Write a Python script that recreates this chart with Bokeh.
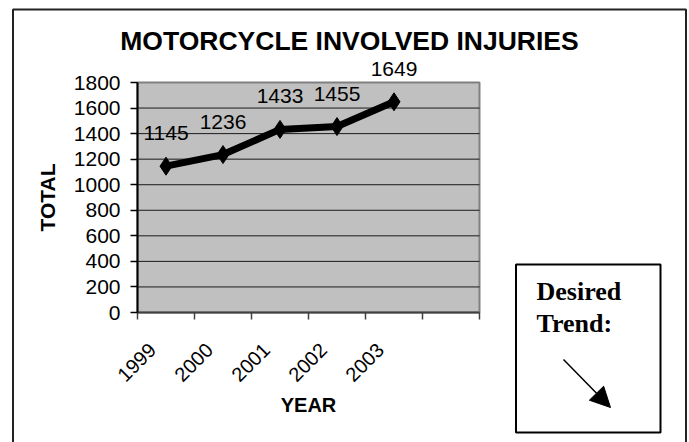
import math
from bokeh.plotting import figure
from bokeh.models import (Range1d, FixedTicker, LabelSet, Label, BoxAnnotation,
                          Arrow, NormalHead, ColumnDataSource)
from bokeh.core.properties import value
from bokeh.embed import file_html
from bokeh.resources import INLINE

# ---- data ----
years = ["1999", "2000", "2001", "2002", "2003"]
injuries = [1145, 1236, 1433, 1455, 1649]
y_ticks = [0, 200, 400, 600, 800, 1000, 1200, 1400, 1600, 1800]
n_slots = 6  # category slots on the axis (last one left empty)

title_text = "MOTORCYCLE INVOLVED INJURIES"
x_title = "YEAR"
y_title = "TOTAL"
note_lines = ["Desired", "Trend:"]

# ---- layout constants (page px) ----
W, H = 689, 442          # canvas size
OX, OY = 0, 0            # canvas origin on the page
PL, PR, PB, PT = 137, 479, 312, 82   # plot-area edges on the page
LABEL_SHIFT = -0.24      # rotated year labels sit slightly left of slot centres
SANS = "Liberation Sans"
SERIF = "Liberation Serif"

ymax = y_ticks[-1]
ux = (PR - PL) / n_slots
uy = (PB - PT) / ymax
x_rng = Range1d(-(PL - OX) / ux, n_slots + (OX + W - PR) / ux)
y_rng = Range1d(-(OY + H - PB) / uy, ymax + (PT - OY) / uy)

p = figure(width=W, height=H, x_range=x_rng, y_range=y_rng,
           output_backend="svg", toolbar_location=None,
           min_border=0, min_border_left=0, min_border_right=0,
           min_border_top=0, min_border_bottom=0,
           background_fill_color="white", border_fill_color="white",
           outline_line_color=None)
p.grid.visible = False

# page-pixel helper ranges for decorations
p.extra_x_ranges = {"page": Range1d(OX, OX + W)}
p.extra_y_ranges = {"page": Range1d(OY + H, OY)}

centers = [i + 0.5 for i in range(len(years))]
label_pos = [c + LABEL_SHIFT for c in centers]

# plot area background + gridlines
p.quad(left=[0], right=[n_slots], bottom=[0], top=[ymax], fill_color="#C0C0C0",
       line_color="#808080", line_width=2, level="image")
grid_vals = y_ticks[1:-1]
p.segment(x0=[0] * len(grid_vals), x1=[n_slots] * len(grid_vals), y0=grid_vals, y1=grid_vals,
          line_color="#1a1a1a", line_width=1, level="underlay")

# x axis
xa = p.xaxis[0]
xa.fixed_location = 0
xa.bounds = (0, n_slots)
xa.ticker = FixedTicker(ticks=label_pos, minor_ticks=list(range(n_slots + 1)))
xa.major_label_overrides = {c: y for c, y in zip(label_pos, years)}
xa.major_label_orientation = math.pi / 4
xa.major_tick_out = 0
xa.major_tick_in = 0
xa.major_tick_line_color = None
xa.minor_tick_out = 7
xa.minor_tick_in = 0
xa.minor_tick_line_color = "#404040"
xa.minor_tick_line_width = 1.5
xa.axis_line_color = "#404040"
xa.axis_line_width = 2
xa.major_label_standoff = 27
xa.major_label_text_font = SANS
xa.major_label_text_font_size = "20px"
xa.major_label_text_color = "black"
xa.axis_label = x_title
xa.axis_label_text_font = SANS
xa.axis_label_text_font_style = "bold"
xa.axis_label_text_font_size = "20px"
xa.axis_label_text_color = "black"
xa.axis_label_standoff = 3

# y axis
ya = p.yaxis[0]
ya.fixed_location = 0
ya.bounds = (0, ymax)
ya.ticker = FixedTicker(ticks=y_ticks)
ya.major_tick_out = 7
ya.major_tick_in = 0
ya.minor_tick_out = 0
ya.minor_tick_in = 0
ya.major_tick_line_color = "black"
ya.major_tick_line_width = 1.5
ya.axis_line_color = "black"
ya.axis_line_width = 2
ya.major_label_standoff = 10
ya.major_label_text_font = SANS
ya.major_label_text_font_size = "21px"
ya.major_label_text_color = "black"
ya.axis_label = y_title
ya.axis_label_text_font = SANS
ya.axis_label_text_font_style = "bold"
ya.axis_label_text_font_size = "21px"
ya.axis_label_text_color = "black"
ya.axis_label_standoff = 12

src = ColumnDataSource(dict(x=centers, y=injuries, label=[str(v) for v in injuries]))
p.line("x", "y", source=src, line_width=7, line_color="black")
p.scatter("x", "y", source=src, marker="diamond", size=18,
          fill_color="black", line_color="black")
p.add_layout(LabelSet(x="x", y="y", text="label", source=src, y_offset=33,
                      text_align="center", text_baseline="middle",
                      text_font=value(SANS), text_font_size=value("21px"),
                      text_color="black"))

# title
p.add_layout(Label(x=349, y=40, x_range_name="page", y_range_name="page", text=title_text,
                   text_align="center", text_baseline="middle", text_font=SANS,
                   text_font_style="bold", text_font_size="26.5px", text_color="black"))

# outer border
p.add_layout(BoxAnnotation(left=12.5, right=685.5, top=9, bottom=480,
                           x_range_name="page", y_range_name="page",
                           fill_color=None, fill_alpha=0,
                           line_color="#222222", line_alpha=1, line_width=2))

# desired trend box
p.add_layout(BoxAnnotation(left=515.5, right=660, top=264, bottom=432,
                           x_range_name="page", y_range_name="page",
                           fill_color=None, fill_alpha=0,
                           line_color="black", line_alpha=1, line_width=2))
for i, t in enumerate(note_lines):
    p.add_layout(Label(x=536, y=291 + i * 31.7, x_range_name="page", y_range_name="page",
                       text=t, text_align="left", text_baseline="middle",
                       text_font=SERIF, text_font_style="bold", text_font_size="26px",
                       text_color="black"))
p.add_layout(Arrow(x_start=563, y_start=359, x_end=610, y_end=407,
                   x_range_name="page", y_range_name="page",
                   line_color="black", line_width=1.5,
                   end=NormalHead(size=20, fill_color="black", line_color="black", line_width=1)))

open("out.html", "w").write(file_html(p, INLINE))
